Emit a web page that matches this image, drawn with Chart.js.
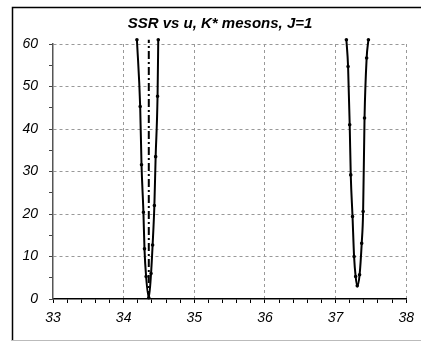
<!DOCTYPE html>
<html>
<head>
<meta charset="utf-8">
<script src="https://cdn.jsdelivr.net/npm/chart.js@4"></script>
<style>
    html, body { margin: 0; padding: 0; background: #fff; }
    canvas { display: block; }
</style>
</head>
<body>
<canvas id="ssrChart" width="421" height="342"></canvas>
<script>
"use strict";

// Chart text
var chartTitle = "SSR vs u, K* mesons, J=1";

// First minimum (u near 34.36)
var uFirst = [34.188, 34.234, 34.253, 34.28, 34.295, 34.318, 34.356, 34.388, 34.41, 34.435, 34.453, 34.48, 34.49];
var ssrFirst = [61, 45.3, 31.6, 20.4, 11.8, 5.3, 0.3, 6, 12.7, 22, 33.5, 47.7, 61];

// Second minimum (u near 37.31)
var uSecond = [37.153, 37.177, 37.2, 37.215, 37.24, 37.262, 37.284, 37.307, 37.34, 37.37, 37.39, 37.41, 37.44, 37.465];
var ssrSecond = [61, 54.7, 41, 29.2, 19.4, 10, 5.3, 3.1, 5.7, 13.1, 20.6, 42.6, 56.7, 61];

// Dash-dot marker line at the best u
var uMarker = [34.356, 34.356];
var ssrMarker = [0, 61];

// Axis ranges
var uRange = [33, 38];
var ssrRange = [0, 60];

function toPoints(xs, ys) {
    var pts = [];
    for (let i = 0; i < xs.length; i++) {
        pts.push({ x: xs[i], y: ys[i] });
    }
    return pts;
}

function isWhole(v, step) {
    var r = Math.round(v / step) * step;
    return Math.abs(v - r) < 1e-6;
}

// Frame and title are drawn by hand
var framePlugin = {
    id: "frame",
    beforeDraw: function (chart) {
        var ctx = chart.ctx;
        ctx.save();
        ctx.fillStyle = "#fff";
        ctx.fillRect(0, 0, chart.width, chart.height);

        ctx.strokeStyle = "#000";
        ctx.lineWidth = 1.5;
        ctx.beginPath();
        ctx.moveTo(12.5, 341);
        ctx.lineTo(12.5, 7.5);
        ctx.lineTo(421, 7.5);
        ctx.stroke();

        ctx.strokeStyle = "#bbb";
        ctx.lineWidth = 1;
        ctx.beginPath();
        ctx.moveTo(12, 340.5);
        ctx.lineTo(421, 340.5);
        ctx.stroke();

        ctx.fillStyle = "#000";
        ctx.font = "italic bold 15px 'Liberation Sans', Arial, sans-serif";
        ctx.textAlign = "center";
        ctx.textBaseline = "middle";
        ctx.fillText(chartTitle, 220, 24);
        ctx.restore();
    }
};

var tickFont = { family: "'Liberation Sans', Arial, sans-serif", size: 14, style: "italic" };

var config = {
    type: "scatter",
    data: {
        datasets: [
            {
                data: toPoints(uFirst, ssrFirst),
                showLine: true,
                borderColor: "#000",
                backgroundColor: "#000",
                borderWidth: 2,
                pointRadius: 0.8,
                cubicInterpolationMode: "monotone",
                clip: false
            },
            {
                data: toPoints(uSecond, ssrSecond),
                showLine: true,
                borderColor: "#000",
                backgroundColor: "#000",
                borderWidth: 2,
                pointRadius: 0.8,
                cubicInterpolationMode: "monotone",
                clip: false
            },
            {
                data: toPoints(uMarker, ssrMarker),
                showLine: true,
                borderColor: "#000",
                borderWidth: 2,
                borderDash: [8, 3, 2, 3],
                pointRadius: 0,
                clip: false
            }
        ]
    },
    options: {
        responsive: false,
        animation: false,
        layout: {
            padding: { top: 44, right: 10, left: 0, bottom: 0 }
        },
        plugins: {
            legend: { display: false },
            title: { display: false },
            tooltip: { enabled: false }
        },
        scales: {
            x: {
                type: "linear",
                min: uRange[0],
                max: uRange[1],
                afterFit: function (scale) { scale.height = 43; },
                ticks: {
                    stepSize: 0.2,
                    autoSkip: false,
                    maxRotation: 0,
                    padding: 7,
                    color: "#000",
                    font: tickFont,
                    callback: function (value) {
                        return isWhole(value, 1) ? String(Math.round(value)) : "";
                    }
                },
                grid: {
                    color: function (ctx) {
                        if (!ctx.tick) return "rgba(0,0,0,0)";
                        var v = ctx.tick.value;
                        return (isWhole(v, 1) && v > uRange[0] + 0.5) ? "#999" : "rgba(0,0,0,0)";
                    },
                    lineWidth: 1,
                    tickColor: "#000",
                    tickLength: 4,
                    tickWidth: 1
                },
                border: { color: "#000", width: 1.5, dash: [3, 3] }
            },
            y: {
                type: "linear",
                min: ssrRange[0],
                max: ssrRange[1],
                afterFit: function (scale) { scale.width = 53; },
                ticks: {
                    stepSize: 5,
                    autoSkip: false,
                    padding: 11,
                    color: "#000",
                    font: tickFont,
                    callback: function (value) {
                        return isWhole(value, 10) ? String(Math.round(value)) : "";
                    }
                },
                grid: {
                    color: function (ctx) {
                        if (!ctx.tick) return "rgba(0,0,0,0)";
                        var v = ctx.tick.value;
                        return (isWhole(v, 10) && v > 0) ? "#999" : "rgba(0,0,0,0)";
                    },
                    lineWidth: 1,
                    tickColor: "#444",
                    tickLength: 4,
                    tickWidth: 1
                },
                border: { color: "#555", width: 1.5, dash: [3, 3] }
            }
        }
    },
    plugins: [framePlugin]
};

var chart = new Chart(document.getElementById("ssrChart").getContext("2d"), config);
</script>
</body>
</html>
